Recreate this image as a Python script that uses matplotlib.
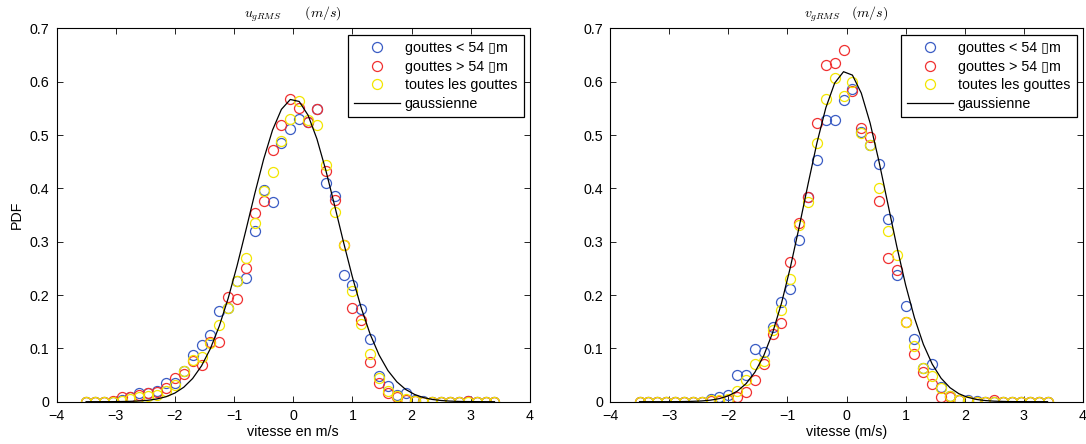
import matplotlib
matplotlib.use("Agg")
import matplotlib.pyplot as plt

plt.rcParams['font.family'] = ['Liberation Sans', 'DejaVu Sans']
plt.rcParams['mathtext.fontset'] = 'cm'

# bin centres (m/s)
vitesse = [-3.5, -3.35, -3.2, -3.05, -2.9, -2.75, -2.6, -2.45, -2.3, -2.15,
           -2.0, -1.85, -1.7, -1.55, -1.4, -1.25, -1.1, -0.95, -0.8, -0.65,
           -0.5, -0.35, -0.2, -0.05, 0.1, 0.25, 0.4, 0.55, 0.7, 0.85,
           1.0, 1.15, 1.3, 1.45, 1.6, 1.75, 1.9, 2.05, 2.2, 2.35,
           2.5, 2.65, 2.8, 2.95, 3.1, 3.25, 3.4]

# ---- u_gRMS panel ----
u_petites = [0, 0, 0, 0, 0.003, 0.008, 0.016, 0.017, 0.020, 0.036,
             0.036, 0.058, 0.087, 0.106, 0.126, 0.170, 0.175, 0.226, 0.232, 0.321,
             0.397, 0.375, 0.486, 0.512, 0.530, 0.525, 0.549, 0.411, 0.385, 0.238,
             0.218, 0.174, 0.118, 0.049, 0.029, 0.013, 0.016, 0.003, 0.001, 0,
             0, 0, 0, 0.002, 0, 0, 0]
u_grosses = [0, 0, 0, 0.001, 0.009, 0.008, 0.012, 0.017, 0.019, 0.025,
             0.044, 0.052, 0.077, 0.069, 0.112, 0.112, 0.196, 0.192, 0.250, 0.353,
             0.376, 0.472, 0.518, 0.567, 0.550, 0.524, 0.548, 0.433, 0.378, 0.294,
             0.175, 0.153, 0.075, 0.035, 0.017, 0.008, 0.004, 0.002, 0, 0,
             0, 0, 0, 0.002, 0, 0, 0]
u_toutes = [0, 0, 0, 0, 0.002, 0.005, 0.008, 0.011, 0.013, 0.021,
            0.031, 0.057, 0.078, 0.084, 0.111, 0.144, 0.175, 0.227, 0.270, 0.336,
            0.396, 0.431, 0.488, 0.530, 0.563, 0.528, 0.518, 0.444, 0.356, 0.294,
            0.208, 0.146, 0.089, 0.044, 0.020, 0.011, 0.005, 0.002, 0, 0,
            0, 0, 0, 0, 0, 0, 0]
u_gauss = [0, 0, 0.0001, 0.0001, 0.0003, 0.0007, 0.0014, 0.0027, 0.0052, 0.0093,
           0.0162, 0.0271, 0.0435, 0.0671, 0.0995, 0.1417, 0.1937, 0.2546, 0.3216, 0.3902,
           0.4548, 0.5094, 0.5482, 0.5667, 0.5630, 0.5373, 0.4927, 0.4341, 0.3674, 0.2988,
           0.2335, 0.1753, 0.1264, 0.0876, 0.0583, 0.0373, 0.0229, 0.0136, 0.0077, 0.0042,
           0.0022, 0.0011, 0.0005, 0.0002, 0.0001, 0, 0]

# ---- v_gRMS panel ----
v_petites = [0, 0, 0, 0, 0, 0, 0, 0, 0.005, 0.008,
             0.012, 0.050, 0.051, 0.098, 0.094, 0.140, 0.187, 0.211, 0.304, 0.383,
             0.454, 0.528, 0.529, 0.566, 0.586, 0.506, 0.481, 0.446, 0.342, 0.238,
             0.180, 0.118, 0.064, 0.070, 0.027, 0.010, 0.003, 0.003, 0.001, 0,
             0, 0, 0, 0, 0, 0, 0]
v_grosses = [0, 0, 0, 0, 0, 0, 0, 0, 0.002, 0.002,
             0.004, 0.008, 0.019, 0.041, 0.071, 0.127, 0.148, 0.262, 0.336, 0.383,
             0.522, 0.631, 0.636, 0.659, 0.582, 0.514, 0.497, 0.377, 0.270, 0.247,
             0.150, 0.089, 0.055, 0.033, 0.008, 0.009, 0.003, 0.002, 0, 0,
             0.003, 0, 0, 0, 0, 0, 0]
v_toutes = [0, 0, 0, 0, 0, 0, 0, 0, 0.003, 0.004,
            0.005, 0.020, 0.041, 0.071, 0.077, 0.135, 0.172, 0.231, 0.332, 0.374,
            0.486, 0.567, 0.607, 0.574, 0.599, 0.504, 0.481, 0.400, 0.320, 0.275,
            0.150, 0.105, 0.063, 0.048, 0.025, 0.010, 0.003, 0.002, 0, 0,
            0, 0, 0, 0, 0, 0, 0]
v_gauss = [0, 0, 0, 0, 0.0001, 0.0003, 0.0007, 0.0014, 0.0029, 0.0058,
           0.0109, 0.0196, 0.0337, 0.0551, 0.0863, 0.1292, 0.1845, 0.2517, 0.3280, 0.4082,
           0.4853, 0.5510, 0.5975, 0.6188, 0.6124, 0.5787, 0.5223, 0.4502, 0.3707, 0.2915,
           0.2189, 0.1570, 0.1076, 0.0704, 0.0440, 0.0263, 0.0150, 0.0082, 0.0042, 0.0021,
           0.0010, 0.0005, 0.0002, 0.0001, 0, 0, 0]

labels = ['gouttes < 54 \u25afm', 'gouttes > 54 \u25afm', 'toutes les gouttes', 'gaussienne']
x_ticks = [-4, -3, -2, -1, 0, 1, 2, 3, 4]
y_ticks = [0, 0.1, 0.2, 0.3, 0.4, 0.5, 0.6, 0.7]
y_ticklabels = ['0', '0.1', '0.2', '0.3', '0.4', '0.5', '0.6', '0.7']

colors = ['#3a5cc4', '#f03030', '#f2e600']
FS = 10.3

W, H = 1086, 444
fig = plt.figure(figsize=(W / 100, H / 100), dpi=100)
ax1 = fig.add_axes([56.5 / W, (H - 401.7) / H, 473.5 / W, 373.3 / H])
ax2 = fig.add_axes([610 / W, (H - 401.7) / H, 473 / W, 373.3 / H])

panels = [
    (ax1, [u_petites, u_grosses, u_toutes], u_gauss, r'$u_{gRMS}\qquad(m/s)$', 'vitesse en m/s', 'PDF'),
    (ax2, [v_petites, v_grosses, v_toutes], v_gauss, r'$v_{gRMS}\quad(m/s)$', 'vitesse (m/s)', None),
]

for ax, series, gauss, title, xlabel, ylabel in panels:
    handles = []
    for vals, c, lab in zip(series, colors, labels[:3]):
        h, = ax.plot(vitesse, vals, linestyle='none', marker='o', markersize=7.2,
                     markerfacecolor='none', markeredgecolor=c, markeredgewidth=0.9,
                     label=lab)
        handles.append(h)
    h, = ax.plot(vitesse, gauss, color='black', linewidth=0.9, label=labels[3])
    handles.append(h)

    ax.set_xlim(-4, 4)
    ax.set_ylim(0, 0.7)
    ax.set_xticks(x_ticks)
    ax.set_yticks(y_ticks)
    ax.set_yticklabels(y_ticklabels)
    ax.tick_params(direction='in', top=True, right=True, length=4.5, width=0.6,
                   labelsize=FS, pad=5)
    for sp in ax.spines.values():
        sp.set_linewidth(0.8)
    ax.set_title(title, fontsize=10, pad=8)
    ax.set_xlabel(xlabel, fontsize=FS, labelpad=2)
    if ylabel:
        ax.set_ylabel(ylabel, fontsize=FS, labelpad=4)
    leg = ax.legend(handles=handles, loc='upper right', fontsize=FS, frameon=True,
                    fancybox=False, framealpha=1, edgecolor='black',
                    handlelength=3.2, handletextpad=0.35, labelspacing=0.32,
                    borderpad=0.45, borderaxespad=0.45)
    leg.get_frame().set_linewidth(0.9)

fig.savefig('out.png', dpi=100)
